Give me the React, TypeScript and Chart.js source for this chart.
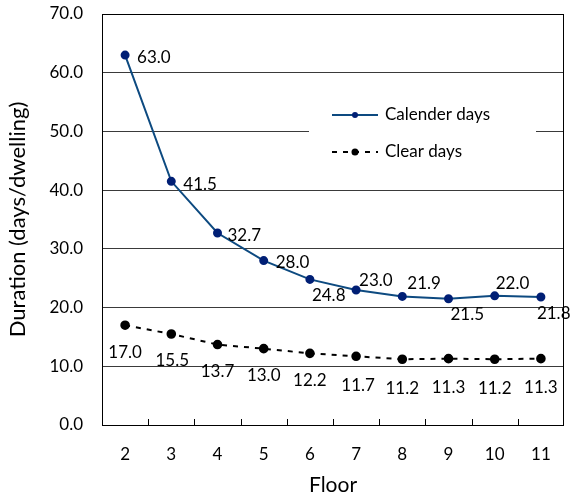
import { useEffect, useRef } from "react";
import { Chart, registerables } from "chart.js";

Chart.register(...registerables);

const floors = ["2", "3", "4", "5", "6", "7", "8", "9", "10", "11"];
const calendarDays = [63.0, 41.5, 32.7, 28.0, 24.8, 23.0, 21.9, 21.5, 22.0, 21.8];
const clearDays = [17.0, 15.5, 13.7, 13.0, 12.2, 11.7, 11.2, 11.3, 11.2, 11.3];
const seriesNames = ["Calender days", "Clear days"];
const yAxisTitle = "Duration (days/dwelling)";
const xAxisTitle = "Floor";
const yMin = 0;
const yMax = 70;
const yStep = 10;

// label placement relative to each point (style only): [dx, dy, align]
const calendarLabelPlacement: [number, number, CanvasTextAlign][] = [
  [12, 2, "left"], [12, 3, "left"], [10, 3, "left"], [12, 2, "left"], [2, 16, "left"],
  [3, -9, "left"], [5, -13, "left"], [2, 16, "left"], [1, -12, "left"], [-4, 17, "left"],
];
const clearLabelPlacement: [number, number, CanvasTextAlign][] = [
  [0, 27, "center"], [1, 27, "center"], [0, 27, "center"], [0, 27, "center"], [0, 27, "center"],
  [2, 29, "center"], [0, 29, "center"], [0, 29, "center"], [0, 29, "center"], [0, 29, "center"],
];

const FONT = "Lato, 'Open Sans', sans-serif";
const LINE_BLUE = "#0d4a80";
const MARK_BLUE = "#001f75";

const labelPlugin = {
  id: "valueLabels",
  afterDatasetsDraw(chart: any) {
    const ctx = chart.ctx;
    ctx.save();
    ctx.font = `17px ${FONT}`;
    ctx.fillStyle = "#000";
    ctx.textBaseline = "middle";
    const placements = [calendarLabelPlacement, clearLabelPlacement];
    chart.data.datasets.forEach((ds: any, di: number) => {
      const meta = chart.getDatasetMeta(di);
      meta.data.forEach((pt: any, i: number) => {
        const [dx, dy, align] = placements[di][i];
        ctx.textAlign = align;
        ctx.fillText(Number(ds.data[i]).toFixed(1), pt.x + dx, pt.y + dy);
      });
    });
    ctx.restore();
  },
};

const framePlugin = {
  id: "frame",
  afterDraw(chart: any) {
    const { ctx, chartArea } = chart;
    const { left, right, top, bottom } = chartArea;
    ctx.save();
    ctx.strokeStyle = "#000";
    ctx.lineWidth = 1;
    ctx.strokeRect(Math.round(left) + 0.5, Math.round(top) + 0.5, Math.round(right - left) - 1, Math.round(bottom - top));
    // inward tick marks at category boundaries
    const n = chart.data.labels.length;
    const w = (right - left) / n;
    ctx.beginPath();
    for (let i = 1; i < n; i++) {
      const x = Math.round(left + i * w) + 0.5;
      ctx.moveTo(x, Math.round(bottom));
      ctx.lineTo(x, Math.round(bottom) - 6);
    }
    ctx.stroke();

    // legend box
    const bx = 309, by = 95, bw = 227, bh = 80;
    ctx.fillStyle = "#fff";
    ctx.fillRect(bx, by, bw, bh);
    const rows = [
      { y: 115, color: LINE_BLUE, mark: MARK_BLUE, dash: [] as number[], r: 3 },
      { y: 152, color: "#000", mark: "#000", dash: [5, 6], r: 3.5 },
    ];
    rows.forEach((row, i) => {
      ctx.strokeStyle = row.color;
      ctx.lineWidth = 2;
      ctx.setLineDash(row.dash);
      ctx.beginPath();
      ctx.moveTo(332, row.y);
      ctx.lineTo(378, row.y);
      ctx.stroke();
      ctx.setLineDash([]);
      ctx.fillStyle = row.mark;
      ctx.beginPath();
      ctx.arc(355, row.y, row.r, 0, Math.PI * 2);
      ctx.fill();
      ctx.fillStyle = "#000";
      ctx.font = `17px ${FONT}`;
      ctx.textAlign = "left";
      ctx.textBaseline = "middle";
      ctx.fillText(chart.data.datasets[i].label, 385, row.y);
    });
    ctx.restore();
  },
};

export default function App() {
  const ref = useRef<HTMLCanvasElement | null>(null);
  useEffect(() => {
    if (!ref.current) return;
    const chart = new Chart(ref.current, {
      type: "line",
      data: {
        labels: floors,
        datasets: [
          {
            label: seriesNames[0],
            data: calendarDays,
            borderColor: LINE_BLUE,
            backgroundColor: MARK_BLUE,
            pointBackgroundColor: MARK_BLUE,
            pointBorderColor: MARK_BLUE,
            borderWidth: 2,
            pointRadius: 3.5,
            tension: 0,
          },
          {
            label: seriesNames[1],
            data: clearDays,
            borderColor: "#000",
            backgroundColor: "#000",
            pointBackgroundColor: "#000",
            pointBorderColor: "#000",
            borderWidth: 2,
            borderDash: [5, 6],
            pointRadius: 3.8,
            tension: 0,
          },
        ],
      },
      options: {
        animation: false,
        responsive: false,
        maintainAspectRatio: false,
        layout: { padding: { top: 14, right: 4, left: 0, bottom: 0 } },
        plugins: { legend: { display: false }, tooltip: { enabled: false } },
        scales: {
          x: {
            type: "category",
            offset: true,
            grid: { display: false },
            border: { display: false },
            ticks: { color: "#000", font: { family: FONT, size: 17 }, padding: 11, maxRotation: 0 },
            title: { display: true, text: xAxisTitle, color: "#000", font: { family: FONT, size: 21 }, padding: { top: 0, bottom: 1 } },
            afterFit: (s: any) => { s.height = 74; s.paddingLeft = 0; s.paddingRight = 0; },
          },
          y: {
            min: yMin,
            max: yMax,
            ticks: {
              stepSize: yStep,
              color: "#000",
              font: { family: FONT, size: 17 },
              padding: 19,
              callback: (v: any) => Number(v).toFixed(1),
            },
            grid: { color: "#3a3a3a", drawTicks: false, lineWidth: 1 },
            border: { display: false },
            title: { display: true, text: yAxisTitle, color: "#000", font: { family: FONT, size: 22 }, padding: { top: 5, bottom: 0 } },
            afterFit: (s: any) => { s.width = 102; s.paddingTop = 0; s.paddingBottom = 0; },
          },
        },
      },
      plugins: [labelPlugin, framePlugin],
    });
    return () => chart.destroy();
  }, []);
  return (
    <div style={{ position: "absolute", left: 0, top: 0, width: 570, height: 499, background: "#fff" }}>
      <canvas ref={ref} width={570} height={499} style={{ width: 570, height: 499, display: "block" }} />
    </div>
  );
}
